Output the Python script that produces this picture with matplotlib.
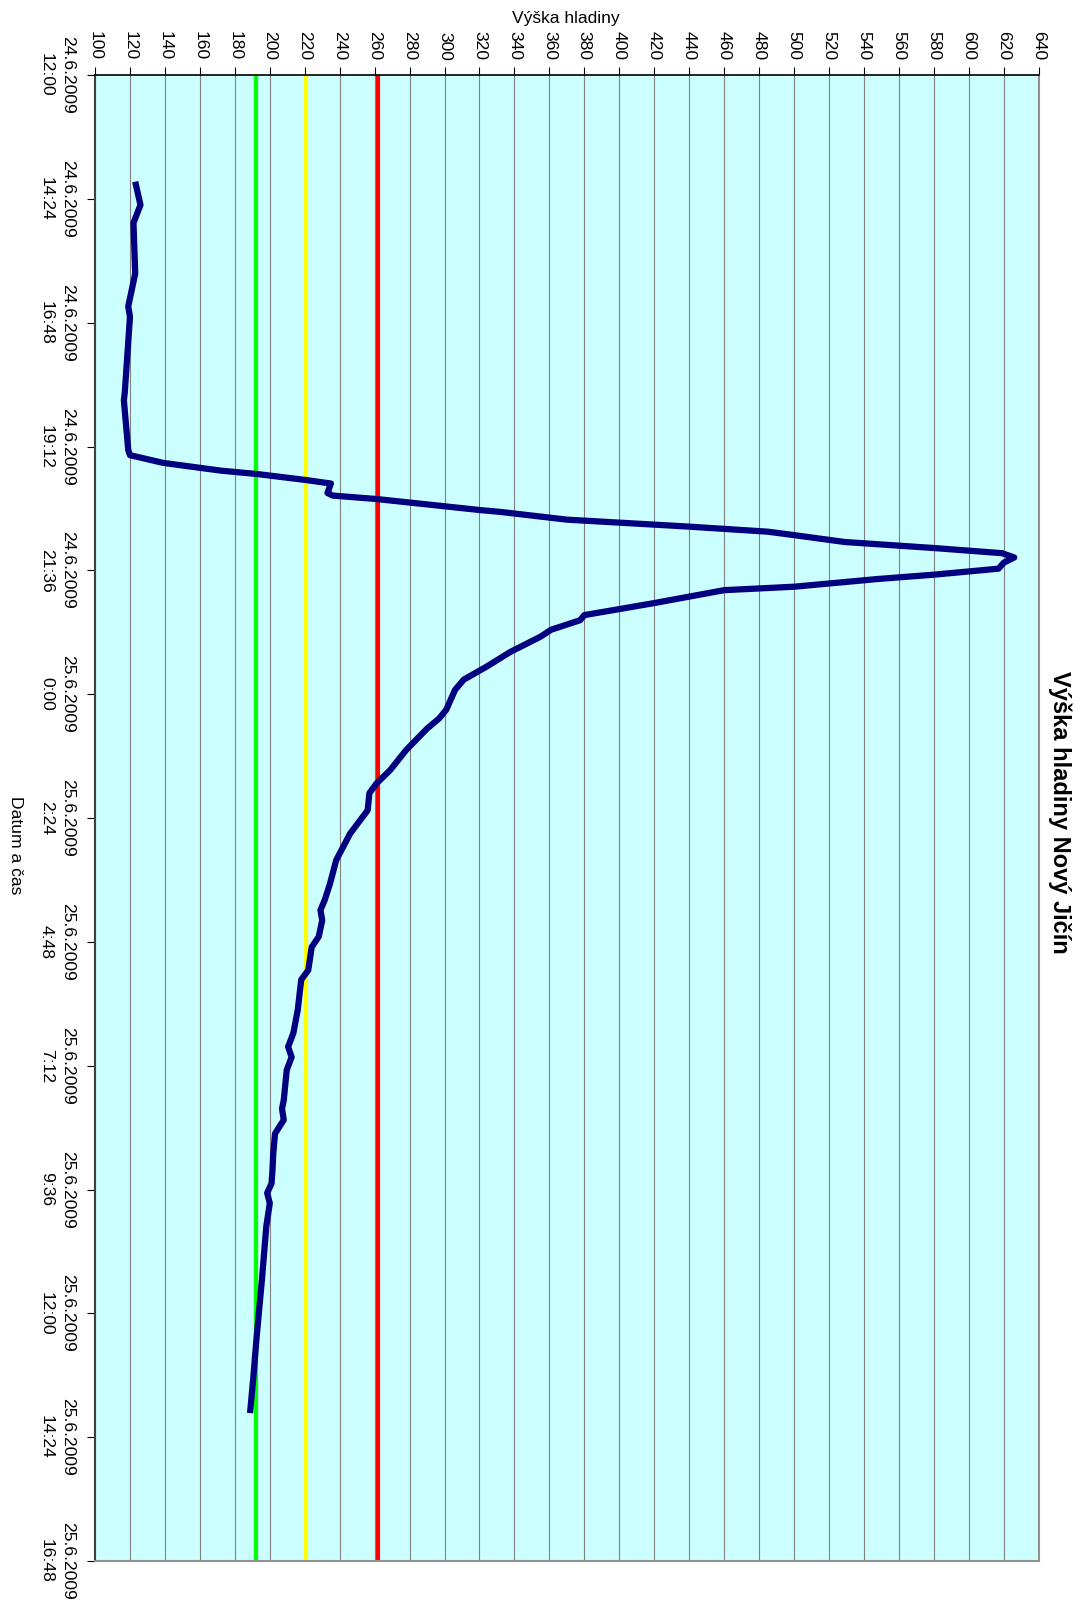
import matplotlib
matplotlib.use('Agg')
import matplotlib.pyplot as plt

plt.rcParams['font.family'] = ['Liberation Sans', 'DejaVu Sans']

# minutes since 24.6.2009 12:00
minutes = [124, 151, 172, 231, 269, 281, 370, 378, 436, 442, 451, 460, 464, 471, 475,
           486, 489, 493, 506, 508, 517, 525, 531, 535, 543, 550, 556, 561, 567, 574,
           581, 586, 595, 599, 614, 628, 634, 645, 653, 671, 688, 703, 715, 738, 748,
           760, 785, 808, 824, 835, 855, 882, 913, 940, 959, 971, 983, 1002, 1014, 1041,
           1052, 1087, 1114, 1130, 1142, 1157, 1192, 1202, 1215, 1231, 1254, 1275, 1289,
           1300, 1312, 1339, 1401, 1467, 1514, 1556]
level = [123, 126, 122, 123, 119, 120, 117, 116.5, 119, 120, 139, 172, 193, 221, 235,
         233, 236, 261, 321, 332, 370, 439, 485, 500, 529, 580, 619, 626, 620, 617,
         580, 548, 500, 460, 420, 380, 377.5, 361, 355, 337.5, 324, 311, 306, 301, 297,
         290, 278, 269, 261, 257, 256, 246, 238, 234.5, 231.5, 229, 230, 228, 224, 222,
         218, 216, 213.5, 210.5, 212.5, 209.7, 208, 207, 208, 203, 202, 201.5, 201,
         198.5, 200, 198, 195.5, 192.5, 190.6, 188.7]

# flood warning levels
limits = [192, 221, 262]
limit_colors = ['#00FF00', '#FFFF00', '#FF0000']

time_ticks = [0, 144, 288, 432, 576, 720, 864, 1008, 1152, 1296, 1440, 1584, 1728]
time_labels = ['24.6.2009\n12:00', '24.6.2009\n14:24', '24.6.2009\n16:48', '24.6.2009\n19:12',
               '24.6.2009\n21:36', '25.6.2009\n0:00', '25.6.2009\n2:24', '25.6.2009\n4:48',
               '25.6.2009\n7:12', '25.6.2009\n9:36', '25.6.2009\n12:00', '25.6.2009\n14:24',
               '25.6.2009\n16:48']
level_ticks = list(range(100, 641, 20))

fig = plt.figure(figsize=(10.81, 16.04), dpi=100)
ax = fig.add_axes([0.0879, 0.0268, 0.873, 0.9264])
ax.set_facecolor('#CCFFFF')
ax.grid(axis='x', color='#808080', lw=0.8)
ax.set_axisbelow(True)

for v, c in zip(limits, limit_colors):
    ax.axvline(v, color=c, lw=3)

ax.plot(level, minutes, color='#000080', lw=4.5, solid_joinstyle='round',
        solid_capstyle='butt')

ax.set_xlim(100, 640)
ax.set_ylim(1728, 0)

ax.xaxis.tick_top()
ax.set_xticks(level_ticks)
ax.tick_params(axis='x', labelrotation=-90, length=6, labelsize=12.6, pad=4.5)
ax.set_yticks(time_ticks)
ax.set_yticklabels(time_labels, rotation=-90, va='center', ha='right',
                   multialignment='center', fontsize=12.6, linespacing=1.55)
ax.tick_params(axis='y', length=6, pad=8)

ax.spines['top'].set_color('black')
ax.spines['top'].set_linewidth(1.2)
ax.spines['left'].set_color('#404040')
ax.spines['left'].set_linewidth(1.5)
for s in ['right', 'bottom']:
    ax.spines[s].set_color('#909090')
    ax.spines[s].set_linewidth(1.5)

fig.text(566 / 1081, 1 - 19 / 1604, 'Výška hladiny', ha='center', va='center', fontsize=12.6)
fig.text(15 / 1081, 1 - 845 / 1604, 'Datum a čas', rotation=-90, ha='center', va='center',
         fontsize=12.6)
fig.text(1060 / 1081, 1 - 812 / 1604, 'Výška hladiny Nový Jičín', rotation=-90,
         fontweight='bold', fontsize=17, ha='center', va='center')

fig.savefig('out.png', dpi=100)
